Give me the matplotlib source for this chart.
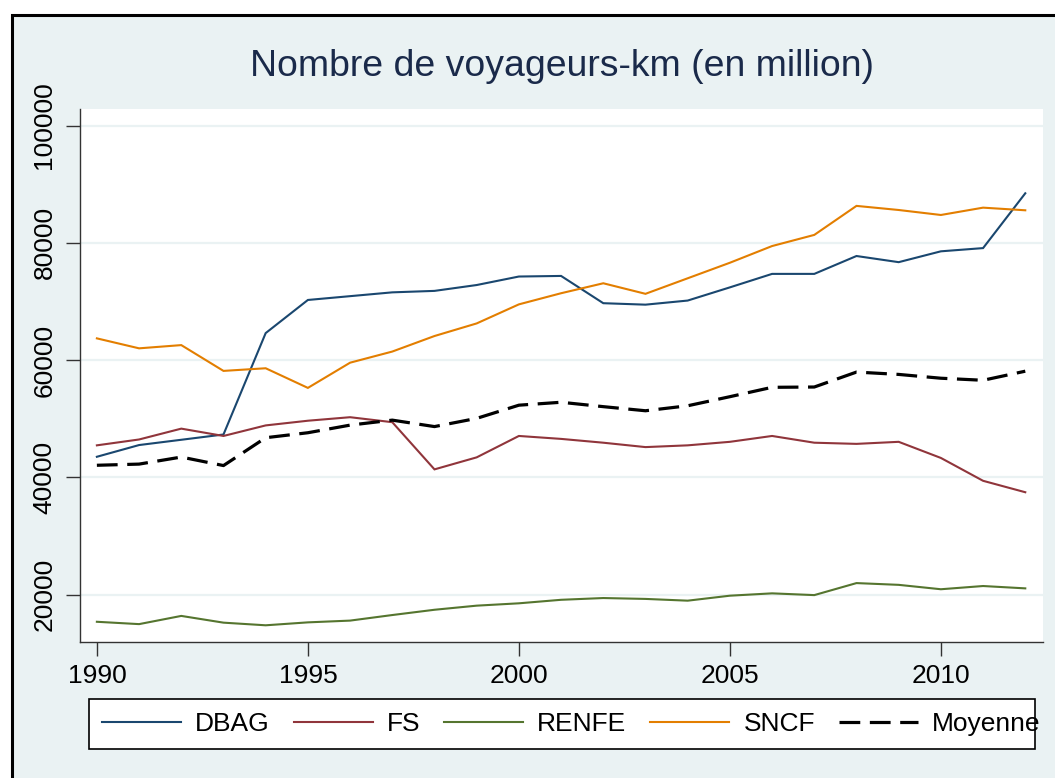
import matplotlib
matplotlib.use("Agg")
import matplotlib.pyplot as plt
from matplotlib.patches import Rectangle

plt.rcParams['font.family'] = ['Liberation Sans', 'DejaVu Sans']

years = list(range(1990, 2013))
dbag = [43500, 45500, 46400, 47300, 64600, 70250, 70900, 71550, 71800, 72800, 74250, 74350,
        69700, 69450, 70150, 72400, 74700, 74700, 77750, 76700, 78550, 79100, 88450]
fs = [45450, 46450, 48300, 47050, 48850, 49650, 50250, 49400, 41350, 43400, 47050, 46550,
      45900, 45150, 45450, 46050, 47050, 45900, 45700, 46050, 43300, 39400, 37450]
renfe = [15350, 14950, 16350, 15200, 14750, 15250, 15550, 16500, 17400, 18100, 18500, 19100,
         19400, 19250, 18950, 19800, 20200, 19900, 21950, 21650, 20900, 21450, 21050]
sncf = [63700, 62000, 62550, 58150, 58600, 55250, 59550, 61450, 64100, 66250, 69500, 71400,
        73100, 71300, 73950, 76600, 79450, 81350, 86300, 85600, 84750, 86000, 85550]
moyenne = [42050, 42250, 43450, 42000, 46750, 47600, 48900, 49750, 48650, 50050, 52300, 52800,
           52050, 51350, 52200, 53750, 55350, 55400, 57950, 57550, 56900, 56550, 58100]

series_names = ["DBAG", "FS", "RENFE", "SNCF", "Moyenne"]
yticks = [20000, 40000, 60000, 80000, 100000]
xticks = [1990, 1995, 2000, 2005, 2010]
title = "Nombre de voyageurs-km (en million)"

W, H = 1055, 778
fig = plt.figure(figsize=(W / 100, H / 100), dpi=100)
fig.patch.set_facecolor("white")

bg = "#EAF2F3"
# outer graph region with black border (cropped on right/bottom)
fig.add_artist(Rectangle((12 / W, -0.2), 1.2, (H - 15) / H + 0.2,
                         transform=fig.transFigure, facecolor=bg,
                         edgecolor="black", lw=2.2, zorder=-10))

ax = fig.add_axes([80 / W, (H - 642) / H, (1043 - 80) / W, (642 - 109) / H])
ax.set_facecolor("white")

colors = ["#1A476F", "#90353B", "#55752F", "#E37E00", "black"]
data = [dbag, fs, renfe, sncf]
for name, vals, c in zip(series_names[:4], data, colors[:4]):
    ax.plot(years, vals, color=c, lw=1.5, label=name, solid_joinstyle="miter")
ax.plot(years, moyenne, color="black", lw=2.3, dashes=(6.5, 3.0),
        label=series_names[4])

ax.set_xlim(1989.6, 2012.42)
ax.set_ylim(11900, 102830)
ax.set_yticks(yticks)
ax.set_yticklabels([str(v) for v in yticks])
ax.set_xticks(xticks)
ax.set_xticklabels([str(v) for v in xticks])

ax.grid(axis="y", color=bg, lw=1.6)
ax.set_axisbelow(True)
for s in ["top", "right"]:
    ax.spines[s].set_visible(False)
for s in ["left", "bottom"]:
    ax.spines[s].set_color("#333333")
    ax.spines[s].set_linewidth(1.0)

ax.tick_params(axis="both", length=10, width=1.0, color="#333333",
               labelsize=19, labelcolor="black")
ax.tick_params(axis="y", pad=7)
ax.tick_params(axis="x", pad=6)
for lab in ax.get_yticklabels():
    lab.set_rotation(90)
    lab.set_va("center")
    lab.set_ha("right")

fig.text(561.5 / W, 1 - 67 / H, title, ha="center", va="center",
         fontsize=26.9, color="#1a2a4a")

# legend box
fig.add_artist(Rectangle((89 / W, (H - 749) / H), (1035 - 89) / W, 50 / H,
                         transform=fig.transFigure, facecolor="white",
                         edgecolor="black", lw=1.2, zorder=1))
handles, labels = ax.get_legend_handles_labels()
leg = fig.legend(handles, labels, loc="center left",
                 bbox_to_anchor=(102 / W, (H - 724) / H), ncol=5,
                 frameon=False, fontsize=19, handlelength=3.0,
                 handletextpad=0.53, columnspacing=0.9, borderpad=0,
                 borderaxespad=0)
leg.set_zorder(2)

fig.savefig("out.png", dpi=100)
